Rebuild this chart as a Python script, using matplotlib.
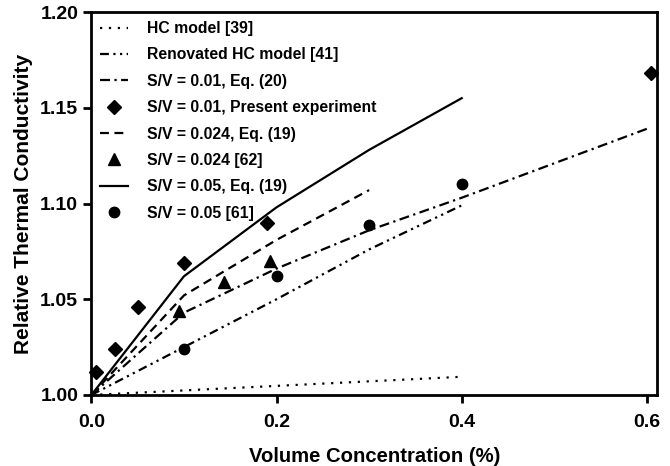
import matplotlib
matplotlib.use("Agg")
import matplotlib.pyplot as plt
from matplotlib.ticker import FormatStrFormatter

plt.rcParams["font.family"] = ["Liberation Sans", "DejaVu Sans"]
plt.rcParams["font.weight"] = "bold"

# Model curves (volume concentration in %, relative thermal conductivity)
hc_x = [0.0, 0.4]
hc_y = [1.000, 1.0095]

renov_x = [0.0, 0.1, 0.2, 0.3, 0.4]
renov_y = [1.000, 1.025, 1.050, 1.076, 1.099]

eq20_x = [0.0, 0.1, 0.2, 0.3, 0.4, 0.6]
eq20_y = [1.000, 1.043, 1.066, 1.086, 1.103, 1.139]

eq19_024_x = [0.0, 0.1, 0.2, 0.3]
eq19_024_y = [1.000, 1.052, 1.081, 1.107]

eq19_05_x = [0.0, 0.1, 0.2, 0.3, 0.4]
eq19_05_y = [1.000, 1.062, 1.098, 1.128, 1.155]

# Measured points
exp_01_x = [0.005, 0.025, 0.05, 0.1, 0.19, 0.605]
exp_01_y = [1.012, 1.024, 1.046, 1.069, 1.090, 1.168]

ref62_x = [0.095, 0.143, 0.193]
ref62_y = [1.044, 1.059, 1.070]

ref61_x = [0.1, 0.2, 0.3, 0.4]
ref61_y = [1.024, 1.062, 1.089, 1.110]

fig = plt.figure(figsize=(6.7, 4.66), dpi=100)
ax = fig.add_axes([0.1364, 0.1524, 0.8442, 0.8218])

lw = 1.6
ax.plot(hc_x, hc_y, color="black", lw=lw, ls=(0, (1, 3)),
        label="HC model [39]")
ax.plot(renov_x, renov_y, color="black", lw=lw, ls=(0, (4, 2, 1, 2, 1, 2)),
        label="Renovated HC model [41]")
ax.plot(eq20_x, eq20_y, color="black", lw=lw, ls=(0, (4.5, 2, 1, 2)),
        label="S/V = 0.01, Eq. (20)")
ax.plot(exp_01_x, exp_01_y, ls="none", marker="D", ms=7.5, color="black",
        label="S/V = 0.01, Present experiment", clip_on=False, zorder=5)
ax.plot(eq19_024_x, eq19_024_y, color="black", lw=lw, ls=(0, (4, 2.5)),
        label="S/V = 0.024, Eq. (19)")
ax.plot(ref62_x, ref62_y, ls="none", marker="^", ms=8.5, color="black",
        label="S/V = 0.024 [62]")
ax.plot(eq19_05_x, eq19_05_y, color="black", lw=lw, ls="-",
        label="S/V = 0.05, Eq. (19)")
ax.plot(ref61_x, ref61_y, ls="none", marker="o", ms=7.5, color="black",
        label="S/V = 0.05 [61]")

ax.set_xlim(0, 0.611)
ax.set_ylim(1.0, 1.2)
ax.set_xticks([0.0, 0.2, 0.4, 0.6])
ax.set_yticks([1.00, 1.05, 1.10, 1.15, 1.20])
ax.xaxis.set_major_formatter(FormatStrFormatter("%.1f"))
ax.yaxis.set_major_formatter(FormatStrFormatter("%.2f"))
ax.tick_params(direction="out", length=6, width=2, labelsize=14)
ax.tick_params(axis="x", pad=8)
ax.tick_params(axis="y", pad=3.5)
for s in ax.spines.values():
    s.set_linewidth(2)

ax.set_xlabel("Volume Concentration (%)", fontsize=14.6, fontweight="bold",
              labelpad=11)
ax.set_ylabel("Relative Thermal Conductivity", fontsize=15,
              fontweight="bold", labelpad=5)

leg = ax.legend(loc="upper left", bbox_to_anchor=(-0.005, 1.005),
                frameon=False, fontsize=11.35, handlelength=1.8,
                handletextpad=1.2, labelspacing=0.72, borderaxespad=0.3)
for t in leg.get_texts():
    t.set_fontweight("bold")

fig.savefig("out.png", dpi=100)
